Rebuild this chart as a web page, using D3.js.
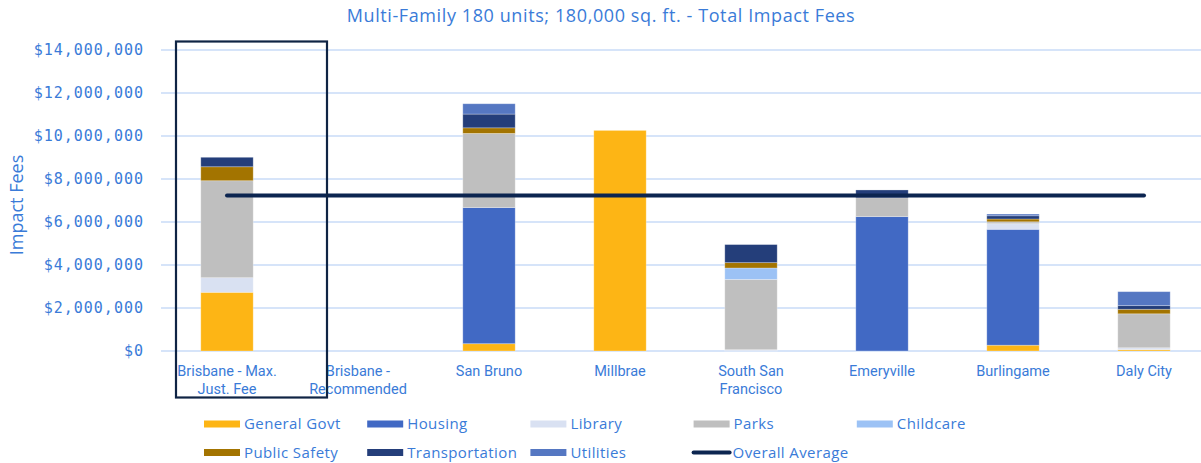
<!DOCTYPE html>
<html>
<head>
<meta charset="utf-8">
<script src="https://cdn.jsdelivr.net/npm/d3@7"></script>
<style>
  body { margin: 0; background: #fff; }
</style>
</head>
<body>
<div class="container"></div>
<script>
const width = 1201;
const height = 463;

// data
const cities = ['Brisbane - Max.\nJust. Fee', 'Brisbane -\nRecommended', 'San Bruno', 'Millbrae',
  'South San\nFrancisco', 'Emeryville', 'Burlingame', 'Daly City'];
const feeTypes = ['General Govt', 'Housing', 'Library', 'Parks', 'Childcare',
  'Public Safety', 'Transportation', 'Utilities'];
const generalGovt   = [2730000, 0, 340000, 10260000, 0, 0, 270000, 60000];
const housing       = [0, 0, 6330000, 0, 0, 6250000, 5390000, 0];
const library       = [680000, 0, 0, 0, 60000, 0, 260000, 90000];
const parks         = [4510000, 0, 3450000, 0, 3270000, 880000, 90000, 1580000];
const childcare     = [0, 0, 0, 0, 530000, 0, 0, 0];
const publicSafety  = [650000, 0, 260000, 0, 250000, 0, 130000, 210000];
const transportation = [440000, 0, 640000, 0, 840000, 360000, 150000, 170000];
const utilities     = [0, 0, 480000, 0, 0, 0, 80000, 650000];
const overallAverage = 7230000;
const yTicks = [0, 2000000, 4000000, 6000000, 8000000, 10000000, 12000000, 14000000];

const seriesValues = [generalGovt, housing, library, parks, childcare, publicSafety, transportation, utilities];
const colors = ['#FDB515', '#4169C4', '#D9E1F2', '#BFBFBF', '#9CC2F5', '#A37400', '#243E7A', '#5577C2'];
const textColor = '#3A7BD8';

const rows = cities.map((c, i) => {
  const r = { city: c };
  feeTypes.forEach((f, j) => { r[f] = seriesValues[j][i]; });
  return r;
});

const svg = d3.select('.container')
  .append('svg')
  .attr('width', width)
  .attr('height', height);

const x = d3.scaleBand()
  .domain(cities)
  .range([161.5, 1209.5])
  .paddingInner(0.6)
  .paddingOuter(0.3);

const y = d3.scaleLinear()
  .domain([0, 14000000])
  .range([351, 50]);

// gridlines
svg.append('g')
  .selectAll('line')
  .data(yTicks)
  .enter()
  .append('line')
  .attr('x1', 161)
  .attr('x2', width)
  .attr('y1', d => y(d))
  .attr('y2', d => y(d))
  .attr('stroke', '#C9DBF7')
  .attr('stroke-width', 1.5);

// y axis
const yAxis = svg.append('g')
  .attr('transform', 'translate(150,0)')
  .call(d3.axisLeft(y).tickValues(yTicks).tickSize(0).tickPadding(6)
    .tickFormat(d => '$' + d3.format(',')(d)));
yAxis.select('.domain').remove();
yAxis.selectAll('text')
  .attr('fill', textColor)
  .attr('font-family', '"DejaVu Sans Mono", monospace')
  .attr('font-size', 15)
  .attr('letter-spacing', '1px');

// stacked bars
const stack = d3.stack().keys(feeTypes);
const layers = stack(rows);

svg.append('g')
  .selectAll('g')
  .data(layers)
  .enter()
  .append('g')
  .attr('fill', (d, i) => colors[i])
  .selectAll('rect')
  .data(d => d)
  .enter()
  .append('rect')
  .attr('x', d => x(d.data.city))
  .attr('width', x.bandwidth())
  .attr('y', d => y(d[1]))
  .attr('height', d => y(d[0]) - y(d[1]))
  .attr('stroke', 'rgba(255,255,255,0.35)')
  .attr('stroke-width', 0.8);

// average line
const firstCenter = x(cities[0]) + x.bandwidth() / 2;
const lastCenter = x(cities[cities.length - 1]) + x.bandwidth() / 2;
svg.append('line')
  .attr('x1', firstCenter)
  .attr('x2', lastCenter)
  .attr('y1', y(overallAverage))
  .attr('y2', y(overallAverage))
  .attr('stroke', '#0C2550')
  .attr('stroke-width', 4)
  .attr('stroke-linecap', 'round');

// category labels
const catLabels = svg.append('g')
  .selectAll('text')
  .data(cities)
  .enter()
  .append('text')
  .attr('x', d => x(d) + x.bandwidth() / 2)
  .attr('y', 376)
  .attr('text-anchor', 'middle')
  .attr('fill', textColor)
  .attr('font-family', 'Roboto, sans-serif')
  .attr('font-size', 14.5);
catLabels.selectAll('tspan')
  .data(d => d.split('\n'))
  .enter()
  .append('tspan')
  .attr('x', function () { return d3.select(this.parentNode).attr('x'); })
  .attr('dy', (d, i) => i === 0 ? 0 : 17.5)
  .text(d => d);

// highlight box
svg.append('rect')
  .attr('x', 176)
  .attr('y', 41.5)
  .attr('width', 151)
  .attr('height', 356)
  .attr('fill', 'none')
  .attr('stroke', '#0F2444')
  .attr('stroke-width', 2.2);

// title
svg.append('text')
  .attr('x', 601)
  .attr('y', 22)
  .attr('text-anchor', 'middle')
  .attr('fill', textColor)
  .attr('font-family', '"Open Sans", sans-serif')
  .attr('font-size', 18)
  .attr('letter-spacing', '0.6px')
  .text('Multi-Family 180 units; 180,000 sq. ft. - Total Impact Fees');

// y title
svg.append('text')
  .attr('transform', 'translate(23,205) rotate(-90)')
  .attr('text-anchor', 'middle')
  .attr('fill', textColor)
  .attr('font-family', '"Open Sans", sans-serif')
  .attr('font-size', 18)
  .text('Impact Fees');

// legend
const legendItems = feeTypes.map((f, i) => ({ name: f, color: colors[i], type: 'rect' }))
  .concat([{ name: 'Overall Average', color: '#0C2550', type: 'line' }]);
const positions = [
  [0, 0], [1, 0], [2, 0], [3, 0], [4, 0],
  [0, 1], [1, 1], [2, 1], [3, 1]
];
const legend = svg.append('g').attr('class', 'legenda');

const li = legend.selectAll('g')
  .data(legendItems)
  .enter()
  .append('g')
  .attr('transform', (d, i) => `translate(${204 + positions[i][0] * 163.2}, ${424 + positions[i][1] * 28.5})`);

li.filter(d => d.type === 'rect')
  .append('rect')
  .attr('x', 0)
  .attr('y', -3.5)
  .attr('width', 36)
  .attr('height', 7)
  .attr('fill', d => d.color);

li.filter(d => d.type === 'line')
  .append('line')
  .attr('x1', 0)
  .attr('x2', 36)
  .attr('y1', 0)
  .attr('y2', 0)
  .attr('stroke', d => d.color)
  .attr('stroke-width', 4)
  .attr('stroke-linecap', 'round');

li.append('text')
  .attr('x', d => d.type === 'line' ? 39 : 40)
  .attr('y', 0)
  .attr('dy', '0.35em')
  .attr('fill', textColor)
  .attr('font-family', '"Open Sans", sans-serif')
  .attr('font-size', 15)
  .attr('letter-spacing', '0.4px')
  .text(d => d.name);
</script>
</body>
</html>
